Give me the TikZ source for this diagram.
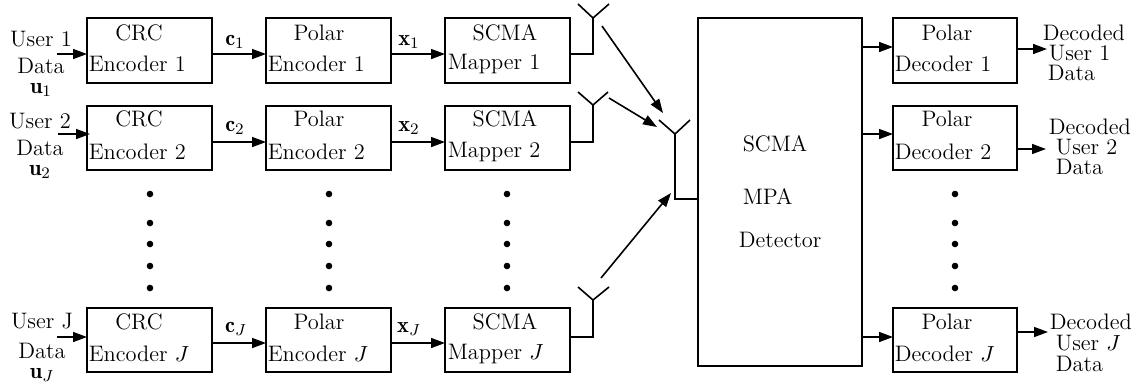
\documentclass[tikz,border=0pt]{standalone}
\usepackage{fontspec}
\usetikzlibrary{arrows.meta}
\begin{document}
\begin{tikzpicture}[x=0.5pt,y=-0.5pt,
  line width=0.8pt,
  blk/.style={draw,line width=0.8pt,minimum width=62.5pt,minimum height=32.25pt,inner sep=0pt,outer sep=0pt},
  dblk/.style={blk,minimum width=62pt},
  txt/.style={inner sep=0pt,font=\fontsize{11.2}{13}\selectfont},
  lt/.style={txt,anchor=west},
  inlab/.style={txt,align=center,anchor=north,font=\fontsize{11.2}{9}\selectfont},
  arr/.style={-{Triangle[length=7pt,width=5pt]},line width=0.8pt},
  dotc/.style={circle,fill=black,inner sep=0pt,minimum size=3.3pt}]
\useasboundingbox (0,0) rectangle (1141,388);

% ---------- blocks ----------
\node[blk] (crc1) at (149.5,50.5) {};
\node[blk] (pol1) at (328.5,50.5) {};
\node[blk] (map1) at (507.5,50.5) {};
\node[blk] (crc2) at (149.5,138) {};
\node[blk] (pol2) at (328.5,138) {};
\node[blk] (map2) at (507.5,138) {};
\node[blk] (crcJ) at (149.5,340) {};
\node[blk] (polJ) at (328.5,340) {};
\node[blk] (mapJ) at (507.5,340) {};
\node[draw,line width=0.8pt,minimum width=82pt,minimum height=174pt,inner sep=0pt,outer sep=0pt] (det) at (780,192) {};
\node[dblk] (dec1) at (955,50.5) {};
\node[dblk] (dec2) at (955,138) {};
\node[dblk] (decJ) at (955,340) {};

% ---------- block texts ----------
\node[txt] (crc1a) at (139,33) {CRC};
\node[lt] (crc1b) at (88,64) {Encoder 1};
\node[txt] (pol1a) at (319,33) {Polar};
\node[lt] (pol1b) at (267,64) {Encoder 1};
\node[txt] (map1a) at (505,33) {SCMA};
\node[lt] (map1b) at (447,64) {Mapper 1};
\node[txt] (dec1a) at (947,33) {Polar};
\node[lt] (dec1b) at (894,64) {Decoder 1};

\node[txt] (crc2a) at (139,119) {CRC};
\node[lt] (crc2b) at (88,152) {Encoder 2};
\node[txt] (pol2a) at (319,119) {Polar};
\node[lt] (pol2b) at (267,152) {Encoder 2};
\node[txt] (map2a) at (505,119) {SCMA};
\node[lt] (map2b) at (447,152) {Mapper 2};
\node[txt] (dec2a) at (947,119) {Polar};
\node[lt] (dec2b) at (894,152) {Decoder 2};

\node[txt] (crcJa) at (139,322) {CRC};
\node[lt] (crcJb) at (88,354) {Encoder $J$};
\node[txt] (polJa) at (319,322) {Polar};
\node[lt] (polJb) at (267,354) {Encoder $J$};
\node[txt] (mapJa) at (505,322) {SCMA};
\node[lt] (mapJb) at (447,354) {Mapper $J$};
\node[txt] (decJa) at (947,322) {Polar};
\node[lt] (decJb) at (894,354) {Decoder $J$};

\node[lt] (detA) at (742,144) {SCMA};
\node[lt] (detB) at (742,196) {MPA};
\node[lt] (detC) at (738,240) {Detector};

% ---------- input labels ----------
\node[inlab] (in1) at (41,30) {User 1\\[4.5pt]Data\\[1pt]$\mathbf{u}_1$};
\node[inlab] (in2) at (40,112) {User 2\\[4.5pt]Data\\[1.2pt]$\mathbf{u}_2$};
\node[inlab] (inJ) at (42,312) {User J\\[6pt]Data\\[1pt]$\mathbf{u}_J$};

% ---------- output labels ----------
\node[lt] (o1a) at (1042,33) {Decoded};
\node[lt] (o1b) at (1048,53) {User 1};
\node[lt] (o1c) at (1047,73) {Data};
\node[lt] (o2a) at (1048,127) {Decoded};
\node[lt] (o2b) at (1055,147) {User 2};
\node[lt] (o2c) at (1055,167) {Data};
\node[lt] (oJa) at (1049,322) {Decoded};
\node[lt] (oJb) at (1055,343) {User $J$};
\node[lt] (oJc) at (1055,364) {Data};

% ---------- signal labels ----------
\node[txt] (c1) at (235,42) {$\mathbf{c}_1$};
\node[txt] (c2) at (235,128) {$\mathbf{c}_2$};
\node[txt] (cJ) at (236,329) {$\mathbf{c}_J$};
\node[txt] (x1) at (409,42) {$\mathbf{x}_1$};
\node[txt] (x2) at (409,128) {$\mathbf{x}_2$};
\node[txt] (xJ) at (409,329) {$\mathbf{x}_J$};

% ---------- coordinates for connectors ----------
\coordinate (s1) at (57,54);   \coordinate (e1) at (crc1.west |- s1);
\coordinate (s2) at (58,134);  \coordinate (e2) at (90,134);
\coordinate (sJ) at (57,337);  \coordinate (eJ) at (crcJ.west |- sJ);

\coordinate (c1o) at (crc1.east |- 0,54);  \coordinate (p1i) at (pol1.west |- 0,54);
\coordinate (c2o) at (crc2.east |- 0,142); \coordinate (p2i) at (pol2.west |- 0,142);
\coordinate (cJo) at (crcJ.east |- 0,343); \coordinate (pJi) at (polJ.west |- 0,343);
\coordinate (p1o) at (pol1.east |- 0,54);  \coordinate (m1i) at (map1.west |- 0,54);
\coordinate (p2o) at (pol2.east |- 0,142); \coordinate (m2i) at (map2.west |- 0,142);
\coordinate (pJo) at (polJ.east |- 0,343); \coordinate (mJi) at (mapJ.west |- 0,343);

\coordinate (m1o) at (map1.east |- 0,54);
\coordinate (m2o) at (map2.east |- 0,142);
\coordinate (mJo) at (mapJ.east |- 0,337);
\coordinate (ant1) at (593,18);
\coordinate (ant2) at (593,105);
\coordinate (antJ) at (593,300);
\coordinate (rx) at (675,134);
\coordinate (rxb) at (675,199);
\coordinate (rxe) at (det.west |- rxb);

\coordinate (a1s) at (602,26);  \coordinate (a1e) at (663,113);
\coordinate (a2s) at (609,98);  \coordinate (a2e) at (657,127);
\coordinate (aJs) at (601,278); \coordinate (aJe) at (671,193);

\coordinate (b1o) at (det.east |- 0,47);  \coordinate (d1i) at (dec1.west |- 0,47);
\coordinate (b2o) at (det.east |- 0,134); \coordinate (d2i) at (dec2.west |- 0,134);
\coordinate (bJo) at (det.east |- 0,337); \coordinate (dJi) at (decJ.west |- 0,337);
\coordinate (d1o) at (dec1.east |- 0,49);  \coordinate (f1) at (1047,49);
\coordinate (d2o) at (dec2.east |- 0,149); \coordinate (f2) at (1046,149);
\coordinate (dJo) at (decJ.east |- 0,332); \coordinate (fJ) at (1048,332);

% ---------- connectors ----------
\draw[arr] (s1) -- (e1);
\draw[arr] (s2) -- (e2);
\draw[arr] (sJ) -- (eJ);
\draw[arr] (c1o) -- (p1i);
\draw[arr] (c2o) -- (p2i);
\draw[arr] (cJo) -- (pJi);
\draw[arr] (p1o) -- (m1i);
\draw[arr] (p2o) -- (m2i);
\draw[arr] (pJo) -- (mJi);

\draw (m1o) -| (ant1);
\draw (m2o) -| (ant2);
\draw (mJo) -| (antJ);
\draw (ant1) ++(-15,-14) -- (ant1) -- ++(16,-14);
\draw (ant2) ++(-15,-13) -- (ant2) -- ++(15,-13);
\draw (antJ) ++(-15,-13) -- (antJ) -- ++(16,-13);
\draw (rx) ++(-16,-14) -- (rx) -- ++(15,-14);
\draw (rx) -- (rxb) -- (rxe);

\draw[arr] (a1s) -- (a1e);
\draw[arr] (a2s) -- (a2e);
\draw[arr] (aJs) -- (aJe);

\draw[arr] (b1o) -- (d1i);
\draw[arr] (b2o) -- (d2i);
\draw[arr] (bJo) -- (dJi);
\draw[arr] (d1o) -- (f1);
\draw[arr] (d2o) -- (f2);
\draw[arr] (dJo) -- (fJ);

% ---------- dots ----------
\foreach \xx/\nm in {150/a,329/b,507/c,955/d}{
  \foreach \yy/\k in {194/1,223/2,244/3,266/4,288/5}{
    \node[dotc] (dot\nm\k) at (\xx,\yy) {};
  }
}
\end{tikzpicture}
\end{document}
